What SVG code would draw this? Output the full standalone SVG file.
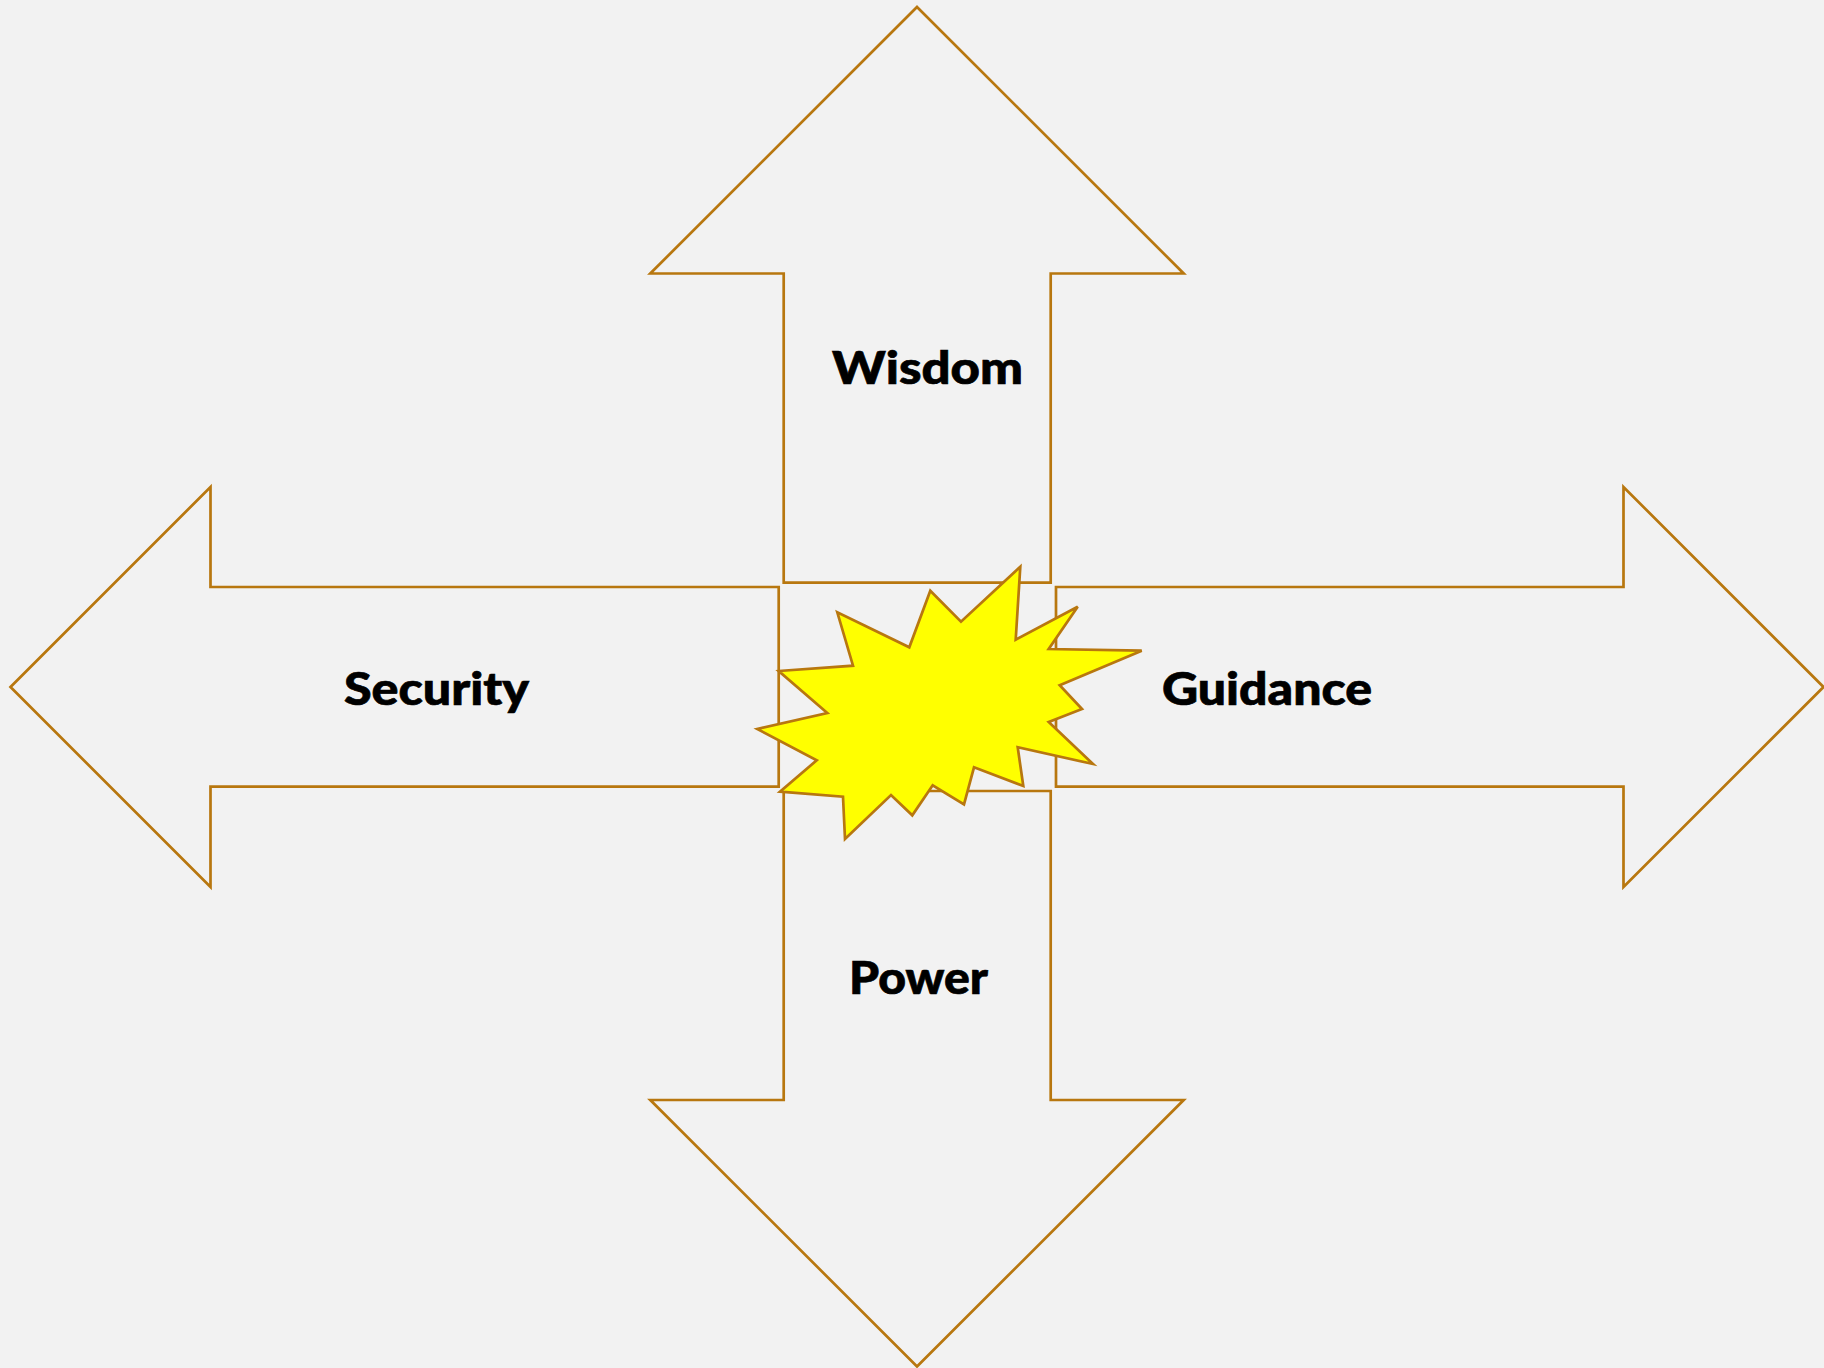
<svg xmlns="http://www.w3.org/2000/svg" width="1824" height="1368" viewBox="0 0 1824 1368">
<style>
.a{fill:none;stroke:#b8770f;stroke-width:2.7;stroke-linejoin:miter}
.s{fill:#ffff00;stroke:#b8770f;stroke-width:2.7;stroke-linejoin:miter}
.t{font-family:"Lato","Liberation Sans",sans-serif;font-weight:900;font-size:45px;fill:#000;stroke:#000;stroke-width:.7}
</style>
<rect width="1824" height="1368" fill="#f2f2f2"/>
<g id="wisdom"><polygon class="a" points="917,7 1183.7,273.5 1050.7,273.5 1050.7,582.7 783.7,582.7 783.7,273.5 650.3,273.5"/><text class="t" x="832" y="384" textLength="191" lengthAdjust="spacingAndGlyphs">Wisdom</text></g>
<g id="security"><polygon class="a" points="10.5,687 210.5,487 210.5,587 778.7,587 778.7,786.7 210.5,786.7 210.5,887"/><text class="t" x="344" y="705" textLength="185" lengthAdjust="spacingAndGlyphs">Security</text></g>
<g id="guidance"><polygon class="a" points="1823.5,687 1623.5,487 1623.5,587 1056,587 1056,786.7 1623.5,786.7 1623.5,887"/><text class="t" x="1162" y="705" textLength="210" lengthAdjust="spacingAndGlyphs">Guidance</text></g>
<g id="power"><polygon class="a" points="917,1366.5 1183.7,1100 1050.7,1100 1050.7,791 783.7,791 783.7,1100 650.3,1100"/><text class="t" x="849" y="994" textLength="139" lengthAdjust="spacingAndGlyphs">Power</text></g>
<g id="burst"><polygon class="s" points="778.7,671 853,665.7 837.3,612.3 909.3,647.3 930.3,590.7 961,621.7 1020.3,566.7 1015.7,639.7 1077.7,606.7 1048.7,649 1141.7,650.7 1059.7,685.3 1082,709 1048.7,722 1093,764 1017.7,747.3 1023.3,786 974,767.3 964,804.3 932.7,785.3 912.3,815.3 891,795 845,839 843,796.7 780,791.7 816.7,760.3 757.3,729 827.3,713"/></g>
<g id="connectors"/>
</svg>
